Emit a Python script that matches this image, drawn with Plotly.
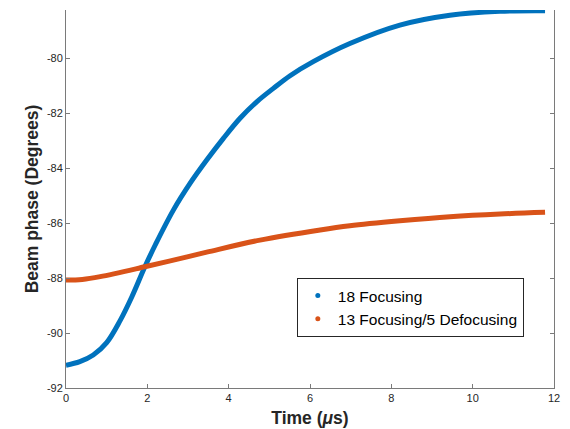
import plotly.graph_objects as go

# Data
t_blue = [0, 0.34, 0.67, 1.0, 1.33, 1.62, 1.94, 2.2, 2.64, 3.05, 3.46, 3.87, 4.28, 4.69, 5.1, 5.51, 6.08, 6.98, 8.21, 9.44, 10.67, 11.78]
y_blue = [-91.17, -91.04, -90.8, -90.35, -89.55, -88.68, -87.59, -86.78, -85.53, -84.56, -83.71, -82.92, -82.19, -81.59, -81.1, -80.64, -80.13, -79.47, -78.8, -78.44, -78.3, -78.28]

t_orange = [0, 0.4, 0.84, 1.94, 2.72, 3.46, 4.77, 6.25, 6.98, 8.21, 9.44, 10.67, 11.78]
y_orange = [-88.07, -88.05, -87.95, -87.59, -87.32, -87.06, -86.62, -86.25, -86.1, -85.92, -85.77, -85.67, -85.61]

series_names = ["18 Focusing", "13 Focusing/5 Defocusing"]
colors = ["#0072BD", "#D95319"]

x_ticks = [0, 2, 4, 6, 8, 10, 12]
y_ticks = [-92, -90, -88, -86, -84, -82, -80]
y_tick_labels = ["-92", "-90", "-88", "-86", "-84", "-82", "-80"]

FONT = "Liberation Sans, Arial, Helvetica, sans-serif"

fig = go.Figure()
for xs, ys, c in [(t_blue, y_blue, colors[0]), (t_orange, y_orange, colors[1])]:
    fig.add_trace(go.Scatter(x=xs, y=ys, mode="lines",
                             line=dict(color=c, width=5, shape="spline", smoothing=1.0),
                             showlegend=False, hoverinfo="skip"))
for name, c in zip(series_names, colors):
    fig.add_trace(go.Scatter(x=[None], y=[None], mode="markers", name=name,
                             marker=dict(color=c, size=5)))

axis_common = dict(
    showline=True, linecolor="#7a7a7a", linewidth=1,
    ticks="inside", ticklen=4, tickcolor="#7a7a7a", tickwidth=1,
    showgrid=False, zeroline=False, automargin=False,
    tickfont=dict(family=FONT, size=11, color="#262626"),
)

fig.update_layout(
    width=570, height=429,
    margin=dict(l=66, r=16, t=10, b=41),
    paper_bgcolor="white", plot_bgcolor="white",
    font=dict(family=FONT, color="#262626"),
    xaxis=dict(range=[0, 12], tickvals=x_ticks, mirror=False,
               title=dict(text="<b>Time (<i>μ</i>s)</b>", font=dict(family=FONT, size=17.5, color="#262626"), standoff=8),
               **axis_common),
    yaxis=dict(range=[-92, -78.25], tickvals=y_ticks, ticktext=y_tick_labels, mirror="ticks",
               title=dict(text="<b>Beam phase (Degrees)</b>", font=dict(family=FONT, size=17.5, color="#262626"), standoff=3),
               **axis_common),
    legend=dict(x=0.473, y=0.213, xanchor="left", yanchor="middle",
                bgcolor="white", bordercolor="#262626", borderwidth=1,
                font=dict(family=FONT, size=15.5, color="#000000"),
                tracegroupgap=0),
)

fig.write_html("out.html",
               config={"displayModeBar": False},
               post_script="document.body.style.margin='0';document.body.style.overflow='hidden';")
